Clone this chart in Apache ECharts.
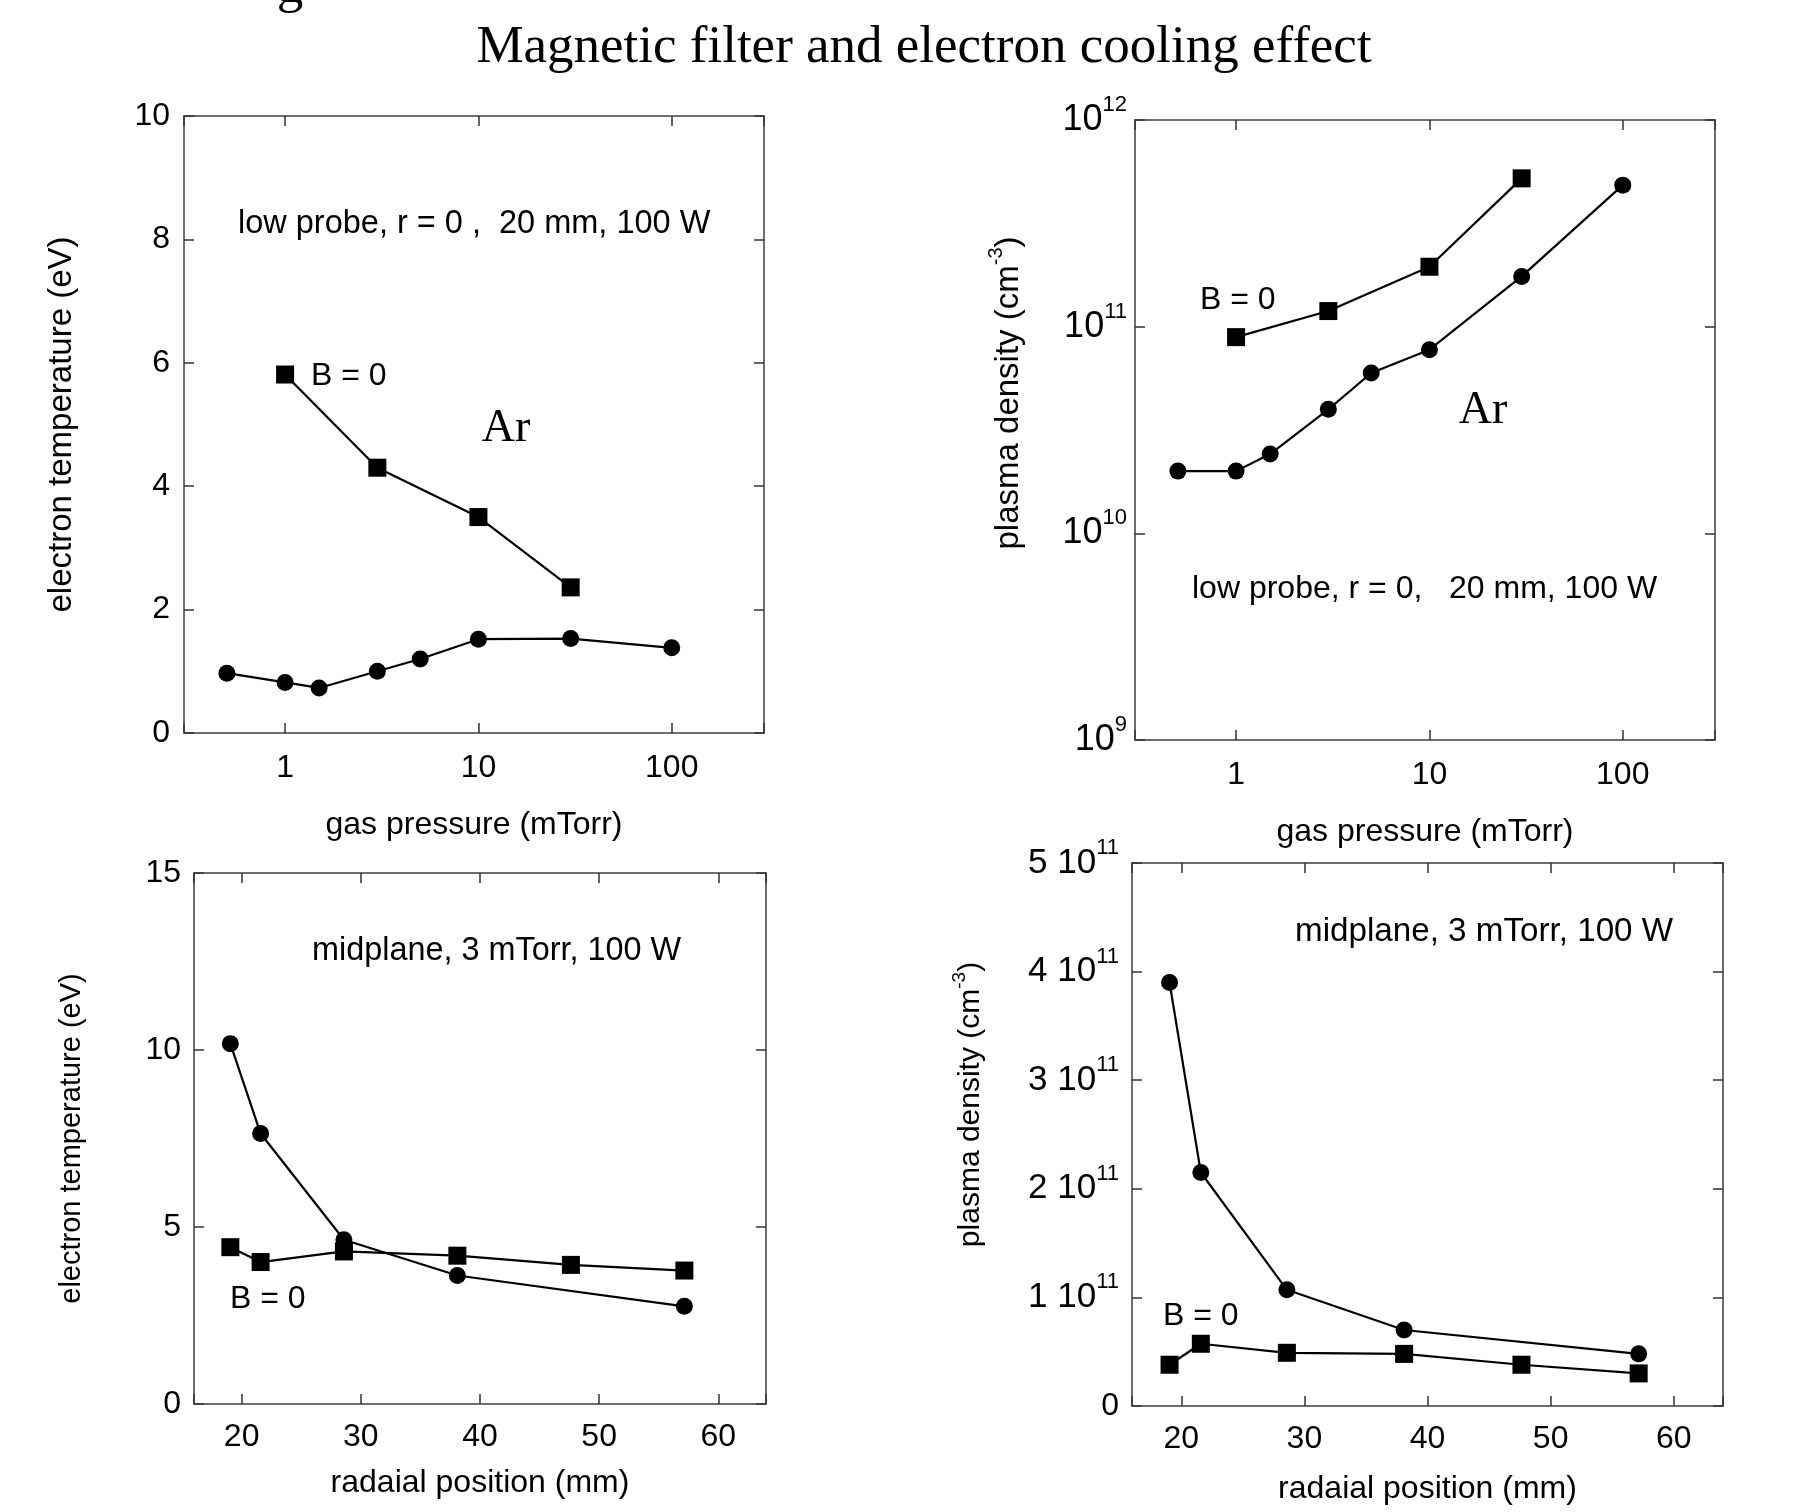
<!DOCTYPE html>
<html><head><meta charset="utf-8">
<script src="https://cdn.jsdelivr.net/npm/echarts@6/dist/echarts.min.js"></script>
<style>html,body{margin:0;padding:0;background:#fff}#c{width:1797px;height:1512px}</style>
</head><body><div id="c"></div>
<script>
// ---------- data ----------
const pressureB = [0.5, 1, 1.5, 3, 5, 10, 30, 100];
const teB = [0.97, 0.82, 0.73, 1.0, 1.2, 1.52, 1.53, 1.38];
const pressureB0 = [1, 3, 10, 30];
const teB0 = [5.81, 4.30, 3.50, 2.36];
const neB = [2.0e10, 2.0e10, 2.42e10, 3.98e10, 5.97e10, 7.74e10, 1.75e11, 4.84e11];
const neB0 = [8.9e10, 1.19e11, 1.95e11, 5.22e11];
const radiusB = [19.05, 21.59, 28.58, 38.1, 57.15];
const teRadB = [10.18, 7.64, 4.64, 3.63, 2.76];
const radiusB0 = [19.05, 21.59, 28.58, 38.1, 47.63, 57.15];
const teRadB0 = [4.43, 4.01, 4.31, 4.19, 3.93, 3.77];
const neRadB = [3.90e11, 2.15e11, 1.07e11, 0.70e11, 0.48e11];
const neRadB0 = [0.38e11, 0.573e11, 0.49e11, 0.48e11, 0.38e11, 0.30e11];
const pressureTicks = [1, 10, 100];
const radiusTicks = [20, 30, 40, 50, 60];
const densityExps = [9, 10, 11, 12];
const densityLinTicks = [1, 2, 3, 4, 5];
const titleText = 'Magnetic filter and electron cooling effect';
const annotA = 'low probe, r = 0 ,  20 mm, 100 W';
const annotB = 'low probe, r = 0,   20 mm, 100 W';
const annotCD = 'midplane, 3 mTorr, 100 W';
const b0Label = 'B = 0';
const gasLabel = 'Ar';

// ---------- styling ----------
const FONT = '"Liberation Sans", Arial, Helvetica, sans-serif';
const SERIF = '"Liberation Serif", "Times New Roman", serif';
const frameLine = {show: true, onZero: false, lineStyle: {color: '#6e6e6e', width: 2}};
const inTick = {show: true, inside: true, length: 10, lineStyle: {color: '#333', width: 1.5}};
const grids = [
  {left: 184, top: 116, width: 580, height: 617},
  {left: 1135, top: 120, width: 580, height: 620},
  {left: 194, top: 873, width: 572, height: 531},
  {left: 1132, top: 863, width: 591, height: 543}
];
const zip = (xs, ys) => xs.map((x, i) => [x, ys[i]]);
const near = (a, b) => Math.abs(a - b) < 1e-6 * Math.max(1, Math.abs(b));
const logXLabel = v => pressureTicks.some(t => near(v, t)) ? String(Math.round(v)) : '';
const radLabel = v => radiusTicks.some(t => near(v, t)) ? String(Math.round(v)) : '';
const supRich = (fb) => ({
  b: {fontSize: fb, fontFamily: FONT, color: '#000', lineHeight: 52, verticalAlign: 'middle'},
  s: {fontSize: 22, fontFamily: FONT, color: '#000', lineHeight: 22, verticalAlign: 'top'}
});
const nameRich = (fs) => ({
  n: {fontSize: fs, fontFamily: FONT, color: '#000', lineHeight: fs + 12, verticalAlign: 'middle'},
  s: {fontSize: Math.round(fs * 0.62), fontFamily: FONT, color: '#000', lineHeight: Math.round(fs * 0.62), verticalAlign: 'top'}
});
const tickFont = {fontSize: 32, fontFamily: FONT, color: '#000'};

function xPair(gi, base, labelFmt, name, nameGap, margin) {
  const main = Object.assign({
    gridIndex: gi, position: 'bottom', axisLine: frameLine, axisTick: inTick,
    splitLine: {show: false}, name: name, nameLocation: 'middle', nameGap: nameGap,
    nameTextStyle: {fontSize: 32, fontFamily: FONT, color: '#000'},
    axisLabel: Object.assign({formatter: labelFmt, margin: margin}, tickFont)
  }, base);
  const top = Object.assign({
    gridIndex: gi, position: 'top', axisLine: frameLine, axisTick: inTick,
    splitLine: {show: false}, axisLabel: {show: false}
  }, base);
  return [main, top];
}
function yPair(gi, base, labelFmt, name, nameGap, margin, nameStyle, rich) {
  const lab = Object.assign({formatter: labelFmt, margin: margin}, tickFont);
  if (rich) lab.rich = rich;
  const main = Object.assign({
    gridIndex: gi, position: 'left', axisLine: frameLine, axisTick: inTick,
    splitLine: {show: false}, name: name, nameLocation: 'middle', nameRotate: 90, nameGap: nameGap,
    nameTextStyle: nameStyle, axisLabel: lab
  }, base);
  const right = Object.assign({
    gridIndex: gi, position: 'right', axisLine: frameLine, axisTick: inTick,
    splitLine: {show: false}, axisLabel: {show: false}
  }, base);
  return [main, right];
}

const logX = {type: 'log', logBase: 10, min: 0.3, max: 300};
const radX = {type: 'value', min: 16, max: 64};

const xAxes = [].concat(
  xPair(0, logX, logXLabel, 'gas pressure (mTorr)', 76, 19),
  xPair(1, logX, logXLabel, 'gas pressure (mTorr)', 76, 19),
  xPair(2, radX, radLabel, 'radaial position (mm)', 63, 17),
  xPair(3, radX, radLabel, 'radaial position (mm)', 67, 17)
);
const yAxes = [].concat(
  yPair(0, {type: 'value', min: 0, max: 10, interval: 2}, v => String(v),
        'electron temperature (eV)', 106, 14, {fontSize: 33, fontFamily: FONT, color: '#000'}),
  yPair(1, {type: 'log', logBase: 10, min: 1e9, max: 1e12},
        v => { const e = Math.round(Math.log10(v)); return densityExps.includes(e) ? '{b|10}{s|' + e + '}' : ''; },
        '{n|plasma density (cm}{s|-3}{n|)}', 104, 8, {rich: nameRich(33), padding: [0, 0, 0, 74]}, supRich(36)),
  yPair(2, {type: 'value', min: 0, max: 15, interval: 5}, v => String(v),
        'electron temperature (eV)', 108, 13, {fontSize: 29, fontFamily: FONT, color: '#000'}),
  yPair(3, {type: 'value', min: 0, max: 5e11, interval: 1e11},
        v => { if (v === 0) return '0'; const k = Math.round(v / 1e11); return densityLinTicks.includes(k) ? '{b|' + k + ' 10}{s|11}' : ''; },
        '{n|plasma density (cm}{s|-3}{n|)}', 140, 13, {rich: nameRich(30), padding: [0, 0, 0, 60]}, supRich(35))
);

function ser(gi, xs, ys, sym, size) {
  return {
    type: 'line', xAxisIndex: gi * 2, yAxisIndex: gi * 2, data: zip(xs, ys),
    symbol: sym, symbolSize: size, showSymbol: true,
    lineStyle: {color: '#000', width: 2.2}, itemStyle: {color: '#000', borderWidth: 0},
    animation: false, silent: true, z: 5
  };
}
const series = [
  ser(0, pressureB, teB, 'circle', 17), ser(0, pressureB0, teB0, 'rect', 18),
  ser(1, pressureB, neB, 'circle', 17), ser(1, pressureB0, neB0, 'rect', 18),
  ser(2, radiusB, teRadB, 'circle', 17), ser(2, radiusB0, teRadB0, 'rect', 18),
  ser(3, radiusB, neRadB, 'circle', 17), ser(3, radiusB0, neRadB0, 'rect', 18)
];

const txt = (x, y, text, size, family, align) => ({
  type: 'text', x: x, y: y, silent: true,
  style: {text: text, font: size + 'px ' + family, fill: '#000', align: align || 'left', verticalAlign: 'middle'}
});
const graphic = [
  txt(924, 48, titleText, 53, SERIF, 'center'),
  {type: 'text', x: 290, y: 15, silent: true, style: {text: 'g', font: '53px ' + SERIF, fill: '#000', align: 'center', verticalAlign: 'bottom'}},
  txt(238, 224, annotA, 32.5, FONT),
  txt(311, 376, b0Label, 32, FONT),
  txt(506, 429, gasLabel, 46, SERIF, 'center'),
  txt(1200, 300, b0Label, 32, FONT),
  txt(1483, 411, gasLabel, 46, SERIF, 'center'),
  txt(1192, 589, annotB, 32, FONT),
  txt(312, 951, annotCD, 32.4, FONT),
  txt(230, 1299, b0Label, 32, FONT),
  txt(1295, 932, annotCD, 33.2, FONT),
  txt(1163, 1316, b0Label, 32, FONT)
];

const chart = echarts.init(document.getElementById('c'), null, {renderer: 'canvas'});
chart.setOption({
  backgroundColor: '#fff',
  animation: false,
  grid: grids,
  xAxis: xAxes,
  yAxis: yAxes,
  series: series,
  graphic: graphic
});
</script>
</body></html>
